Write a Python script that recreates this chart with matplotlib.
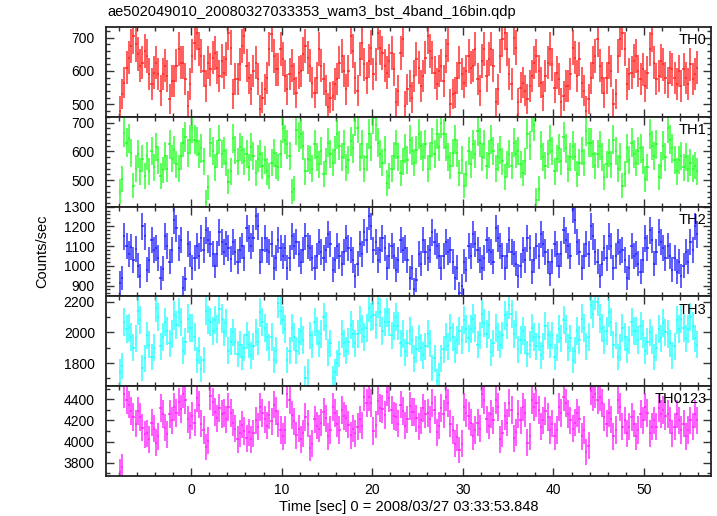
"""
WAM light curves, 4 energy bands + sum, 0.25 s bins.
"""
import numpy as np
import matplotlib
matplotlib.use("Agg")
import matplotlib.pyplot as plt
from matplotlib.ticker import MultipleLocator

plt.rcParams['font.family'] = ['Liberation Sans', 'DejaVu Sans']

# time bins (sec)
t0 = -8.0
binw = 0.25

# counts/sec per band, 16 bins (4 s) per row
th0 = [480, 530, 565, 610, 640, 675, 705, 680, 650, 615, 625, 660, 645, 590, 560, 595,
       625, 590, 540, 590, 615, 585, 515, 570, 570, 615, 665, 625, 625, 575, 495, 560,
       645, 685, 715, 665, 645, 600, 555, 625, 605, 640, 655, 610, 585, 630, 595, 635,
       715, 670, 530, 575, 575, 620, 675, 705, 615, 580, 545, 600, 625, 575, 485, 520,
       545, 580, 665, 710, 645, 605, 605, 665, 635, 585, 545, 590, 615, 575, 535, 595,
       600, 650, 675, 640, 615, 565, 535, 580, 665, 615, 575, 540, 490, 520, 525, 560,
       575, 625, 645, 600, 545, 600, 705, 660, 580, 540, 635, 685, 620, 580, 630, 670,
       590, 620, 715, 670, 655, 615, 595, 630, 655, 605, 505, 540, 655, 695, 495, 545,
       555, 520, 585, 635, 610, 555, 585, 640, 705, 660, 640, 595, 560, 600, 615, 570,
       645, 680, 500, 530, 535, 580, 625, 590, 565, 600, 645, 610, 615, 665, 575, 540,
       630, 665, 585, 635, 665, 615, 505, 545, 645, 695, 715, 665, 590, 560, 700, 670,
       505, 550, 565, 540, 515, 555, 585, 625, 645, 600, 565, 525, 585, 625, 665, 620,
       550, 595, 575, 505, 525, 555, 555, 590, 670, 640, 585, 635, 565, 540, 480, 515,
       580, 625, 645, 695, 615, 580, 535, 580, 625, 600, 500, 530, 645, 695, 715, 665,
       560, 590, 595, 630, 645, 600, 575, 605, 555, 595, 665, 710, 625, 575, 585, 630,
       620, 580, 565, 610, 605, 580, 560, 600, 555, 605, 580, 560, 620, 575, 590, 610]
th1 = [460, 505, 665, 630, 645, 595, 480, 540, 590, 530, 575, 515, 585, 530, 600, 545,
       615, 570, 515, 535, 585, 540, 625, 575, 605, 555, 540, 585, 630, 650, 595, 640,
       680, 640, 635, 590, 610, 565, 425, 475, 630, 600, 545, 590, 640, 590, 600, 560,
       495, 530, 645, 605, 565, 615, 605, 565, 590, 545, 615, 585, 525, 575, 590, 550,
       570, 530, 515, 560, 595, 550, 545, 590, 680, 640, 625, 585, 460, 470, 675, 650,
       660, 620, 530, 575, 570, 540, 625, 580, 555, 600, 520, 565, 630, 590, 560, 605,
       660, 620, 580, 625, 545, 570, 635, 610, 705, 680, 580, 625, 540, 580, 660, 615,
       715, 690, 630, 590, 560, 605, 490, 515, 540, 585, 625, 580, 525, 565, 610, 570,
       640, 600, 560, 605, 660, 620, 580, 625, 540, 585, 630, 590, 660, 615, 700, 660,
       615, 580, 550, 595, 640, 595, 525, 570, 480, 520, 600, 555, 625, 590, 670, 630,
       580, 625, 550, 590, 640, 600, 540, 580, 605, 565, 510, 555, 590, 550, 630, 590,
       600, 555, 525, 565, 660, 620, 720, 690, 430, 470, 620, 580, 550, 590, 640, 600,
       530, 575, 610, 565, 650, 610, 540, 580, 620, 580, 520, 560, 600, 560, 670, 630,
       630, 590, 550, 590, 620, 580, 510, 555, 595, 555, 640, 600, 540, 580, 480, 520,
       610, 570, 630, 590, 560, 600, 610, 570, 505, 545, 660, 620, 585, 625, 510, 550,
       620, 580, 680, 640, 610, 570, 530, 570, 585, 545, 580, 540, 560, 540, 550, 530]
th2 = [915, 940, 1150, 1100, 1060, 1095, 1030, 1085, 1000, 950, 1200, 1150, 980, 1030, 1130, 1080,
       1090, 1040, 940, 985, 1150, 1100, 1020, 1080, 1230, 1190, 1090, 1130, 890, 935, 1110, 1060,
       990, 1040, 1100, 1050, 1140, 1080, 1180, 1130, 1110, 1060, 1000, 1060, 1170, 1120, 1070, 1110,
       1090, 1035, 1120, 1070, 1020, 1080, 1100, 1040, 1190, 1140, 1100, 1140, 1250, 1200, 1020, 1080,
       1140, 1080, 1070, 1110, 990, 1040, 1130, 1090, 1050, 1090, 990, 1040, 1150, 1100, 1120, 1060,
       1020, 1080, 1150, 1100, 1090, 1040, 990, 1050, 1120, 1070, 1040, 1080, 1160, 1110, 980, 1030,
       1100, 1050, 1010, 1070, 1140, 1090, 1080, 1030, 950, 1010, 1110, 1060, 1170, 1130, 1250, 1200,
       1080, 1120, 1030, 1080, 1140, 1090, 990, 1050, 1100, 1050, 980, 1030, 1130, 1080, 1090, 1030,
       940, 990, 880, 930, 1060, 1010, 1130, 1070, 1040, 1080, 1170, 1120, 1100, 1050, 990, 1050,
       1120, 1070, 1080, 1020, 940, 990, 860, 900, 1020, 980, 1100, 1050, 1160, 1110, 1080, 1030,
       990, 1040, 1130, 1080, 1070, 1020, 1190, 1140, 1100, 1050, 990, 1050, 1130, 1070, 1060, 1010,
       950, 1000, 1080, 1030, 1140, 1090, 970, 1030, 1100, 1050, 1160, 1110, 1070, 1020, 960, 1020,
       1110, 1060, 1000, 1060, 1180, 1130, 1100, 1050, 1290, 1230, 1120, 1070, 990, 1050, 1110, 1060,
       1200, 1150, 1070, 1020, 950, 1010, 1090, 1040, 1150, 1100, 990, 1050, 1120, 1070, 1080, 1030,
       940, 990, 1100, 1050, 1060, 1010, 970, 1030, 1140, 1090, 1180, 1130, 1010, 1070, 1170, 1120,
       1090, 1040, 1100, 1050, 980, 1040, 970, 1020, 950, 1000, 1070, 1020, 1120, 1080, 1200, 1160]
th3 = [1740, 1780, 2070, 2020, 2030, 1970, 1900, 1960, 2140, 2080, 1770, 1830, 1980, 1920, 1840, 1900,
       2160, 2100, 1910, 1970, 2070, 2010, 1930, 1990, 2110, 2050, 2130, 2070, 1880, 1940, 2090, 2030,
       2030, 1970, 1820, 1880, 1760, 1820, 2140, 2080, 2070, 2010, 2080, 2020, 2150, 2090, 2000, 2060,
       1880, 1940, 2000, 1940, 1860, 1920, 1840, 1900, 1980, 1920, 1850, 1910, 2000, 1940, 2130, 2070,
       2030, 1970, 1900, 1970, 1820, 1880, 2190, 2140, 2080, 2020, 1820, 1880, 2030, 1970, 1880, 1940,
       2010, 1950, 1700, 1740, 1980, 1920, 2070, 2010, 1930, 1990, 2100, 2040, 1870, 1930, 1700, 1740,
       1800, 1860, 1990, 1930, 1880, 1940, 2050, 1990, 1930, 1990, 2080, 2020, 1970, 2030, 2160, 2100,
       2110, 2050, 2190, 2130, 2010, 2070, 2130, 2070, 1980, 2040, 2100, 2040, 1930, 1990, 1870, 1930,
       2010, 1950, 1830, 1890, 1960, 1900, 1850, 1910, 1990, 1930, 1770, 1830, 1680, 1720, 1830, 1890,
       1970, 1910, 2030, 1970, 1890, 1950, 2010, 1950, 2080, 2020, 1960, 2020, 2090, 2030, 1920, 1980,
       2120, 2060, 1990, 2050, 1870, 1930, 2030, 1970, 1920, 1980, 2110, 2050, 2180, 2120, 1990, 2050,
       1890, 1950, 2010, 1950, 1860, 1920, 2030, 1970, 1910, 1970, 1850, 1910, 2040, 1980, 1920, 1980,
       1840, 1900, 2020, 1960, 2080, 2020, 1900, 1960, 1820, 1880, 2010, 1950, 2090, 2030, 1910, 1970,
       2180, 2120, 2240, 2200, 2090, 2030, 1950, 2010, 2130, 2070, 1920, 1980, 1840, 1900, 2030, 1970,
       1890, 1950, 2070, 2010, 2010, 1950, 2040, 1990, 1880, 1940, 2000, 1950, 1840, 1900, 2020, 1960,
       2060, 2000, 1990, 1930, 1850, 1910, 2080, 2020, 2090, 2030, 1960, 2020, 2100, 2040, 1960, 1920]
th0123 = [3710, 3760, 4450, 4390, 4350, 4290, 4230, 4170, 4290, 4230, 4130, 4070, 4080, 4020, 4180, 4120,
          3990, 4050, 4320, 4260, 4130, 4070, 4260, 4200, 4330, 4270, 4370, 4310, 4450, 4390, 4210, 4150,
          4240, 4180, 4410, 4350, 4170, 4110, 3950, 4010, 4430, 4370, 4280, 4220, 4320, 4260, 4270, 4210,
          4330, 4270, 4180, 4120, 4020, 4080, 4160, 4100, 4030, 4090, 4020, 4080, 4200, 4140, 4330, 4270,
          4210, 4150, 4250, 4190, 4350, 4290, 4170, 4110, 4050, 4110, 4450, 4390, 4250, 4190, 4060, 4120,
          4020, 4080, 4230, 4170, 3940, 3980, 4210, 4150, 4120, 4180, 4280, 4220, 4050, 4110, 4330, 4270,
          4170, 4110, 4300, 4240, 4220, 4160, 4060, 4120, 4080, 4140, 4210, 4150, 4420, 4360, 4420, 4360,
          4100, 4160, 4380, 4320, 4310, 4250, 4470, 4410, 4300, 4240, 4230, 4170, 4350, 4290, 4150, 4210,
          4340, 4280, 4280, 4220, 4140, 4200, 4320, 4260, 4270, 4210, 4360, 4300, 4090, 4150, 4320, 4260,
          4420, 4360, 4170, 4110, 3980, 4040, 3920, 3980, 4330, 4270, 4240, 4180, 4050, 4110, 4180, 4120,
          4450, 4390, 4210, 4150, 4260, 4200, 4390, 4330, 4020, 4080, 4240, 4180, 4360, 4300, 4030, 4090,
          4260, 4200, 4330, 4270, 3990, 4050, 4390, 4330, 4360, 4300, 4140, 4200, 4290, 4230, 4110, 4170,
          4050, 4110, 4330, 4270, 4420, 4360, 4260, 4200, 4120, 4180, 4270, 4210, 4050, 4110, 3900, 3960,
          4480, 4420, 4450, 4390, 4420, 4360, 4230, 4170, 4270, 4210, 4050, 4110, 4390, 4330, 4140, 4200,
          4080, 4140, 4230, 4170, 4050, 4110, 4260, 4200, 4330, 4270, 4080, 4140, 4200, 4140, 4320, 4260,
          4300, 4240, 4260, 4200, 4080, 4140, 4260, 4200, 4110, 4170, 4050, 4110, 4200, 4140, 4260, 4200]

series = [th0, th1, th2, th3, th0123]
names = ["TH0", "TH1", "TH2", "TH3", "TH0123"]
colors = ["#ff2020", "#20ff20", "#2020ff", "#20ffff", "#ff20ff"]
ylims = [(462, 732), (408, 720), (845, 1300), (1649, 2234), (3675, 4523)]
ymajor = [100, 100, 100, 200, 200]
yminor = [20, 20, 20, 100, 100]

fig = plt.figure(figsize=(7.17, 5.16), dpi=100)
left, right = 106 / 717, 711 / 717
top_px, bot_px = 27, 476
h = (bot_px - top_px) / 5

for k in range(5):
    y0 = 1 - (top_px + (k + 1) * h) / 516
    ax = fig.add_axes([left, y0, right - left, h / 516])
    y = np.array(series[k], dtype=float)
    t = t0 + binw * (np.arange(len(y)) + 0.5)
    err = np.sqrt(y * binw) / binw  # poisson
    ax.errorbar(t, y, xerr=binw / 2, yerr=err, fmt='none', ecolor=colors[k],
                elinewidth=1.2, alpha=0.85)
    ax.set_xlim(-9.4, 57.4)
    ax.set_ylim(*ylims[k])
    ax.xaxis.set_major_locator(MultipleLocator(10))
    ax.xaxis.set_minor_locator(MultipleLocator(2))
    ax.yaxis.set_major_locator(MultipleLocator(ymajor[k]))
    ax.yaxis.set_minor_locator(MultipleLocator(yminor[k]))
    ax.tick_params(which='both', direction='in', top=True, right=True,
                   width=1.0, color='#333333', labelsize=10)
    ax.tick_params(which='major', length=6)
    ax.tick_params(which='minor', length=3)
    ax.tick_params(axis='y', pad=8)
    ax.tick_params(axis='x', pad=5)
    for s in ax.spines.values():
        s.set_linewidth(1.3)
        s.set_color('#222222')
    if k < 4:
        ax.tick_params(labelbottom=False)
    ax.text(0.993, 0.93, names[k], transform=ax.transAxes, ha='right', va='top',
            fontsize=10.5)

fig.text(107 / 717, 1 - 12 / 516, "ae502049010_20080327033353_wam3_bst_4band_16bin.qdp",
         ha='left', va='center', fontsize=10.5)
fig.text(42 / 717, 1 - 251 / 516, "Counts/sec", rotation=90, ha='center', va='center',
         fontsize=10.5)
fig.text((left + right) / 2, 1 - 507 / 516, "Time [sec] 0 = 2008/03/27 03:33:53.848",
         ha='center', va='center', fontsize=10.5)

fig.savefig("out.png", dpi=100)
